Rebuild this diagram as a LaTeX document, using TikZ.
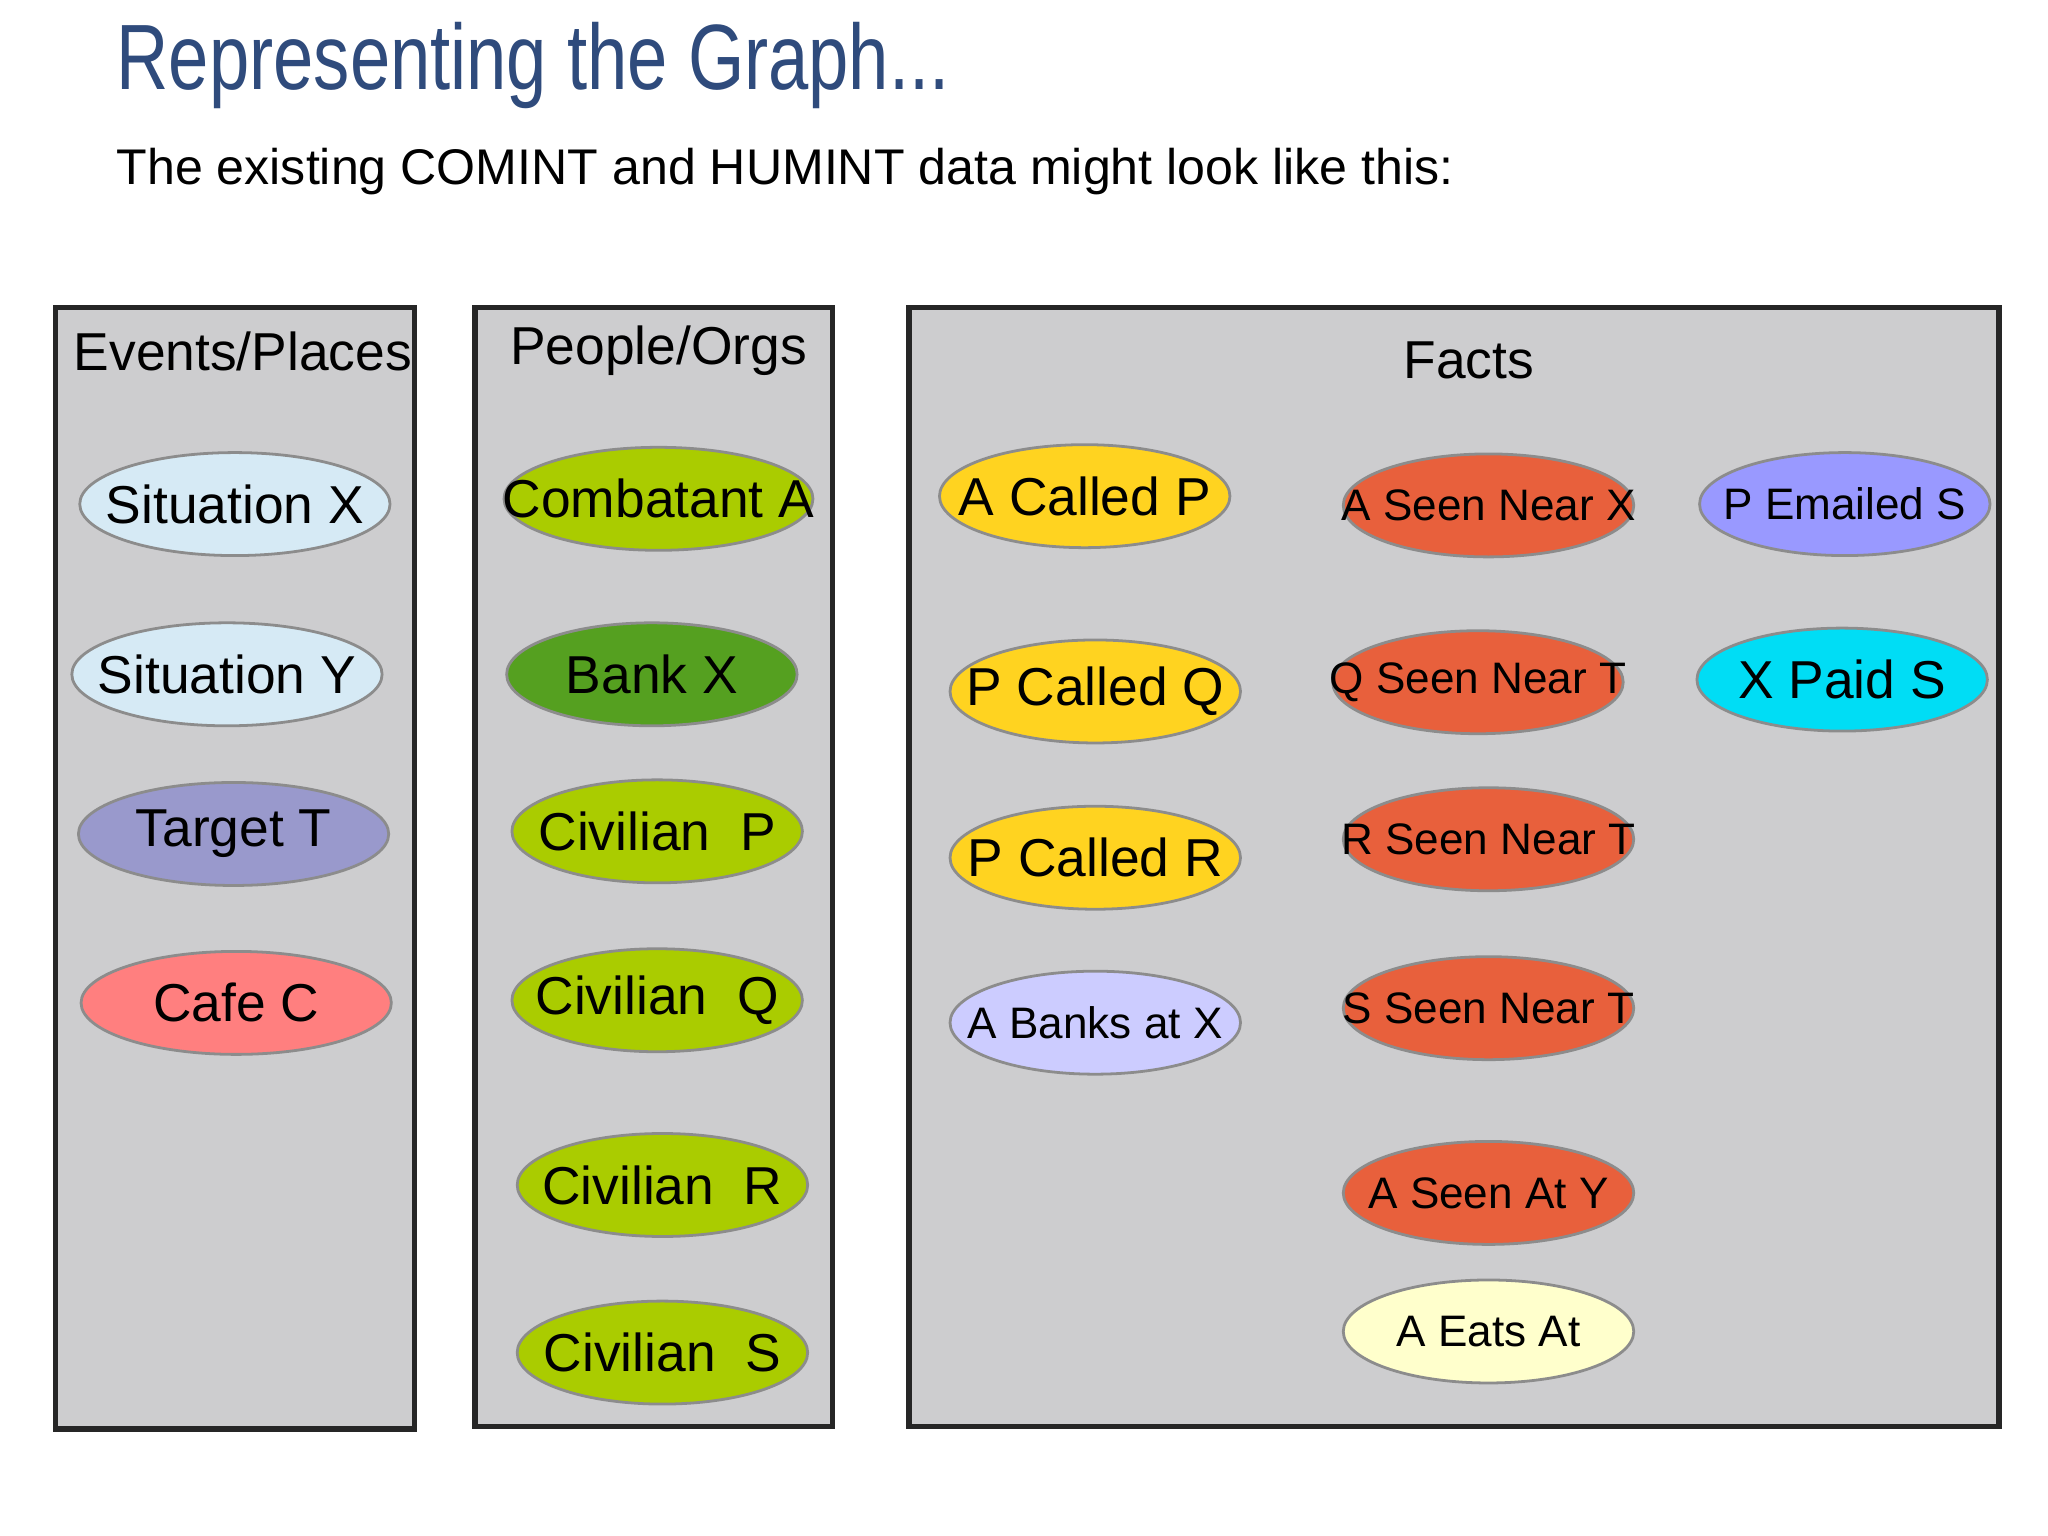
\documentclass[tikz,border=0pt]{standalone}
\usepackage{fontspec}
\setmainfont{Liberation Sans}
\usetikzlibrary{shapes.geometric}
\definecolor{panel}{HTML}{CDCDCF}
\definecolor{titleblue}{HTML}{2F4B7C}
\definecolor{sitc}{HTML}{D6EAF5}
\definecolor{tarc}{HTML}{9999CC}
\definecolor{cafc}{HTML}{FF7F7F}
\definecolor{civc}{HTML}{AACC00}
\definecolor{bankc}{HTML}{55A020}
\definecolor{callc}{HTML}{FFD320}
\definecolor{banksc}{HTML}{CCCCFF}
\definecolor{seenc}{HTML}{E8603C}
\definecolor{eatc}{HTML}{FFFFCC}
\definecolor{emailc}{HTML}{9999FF}
\definecolor{paidc}{HTML}{00DDF5}
\tikzset{
  panelbox/.style={draw=black!85,line width=1.2pt,fill=panel},
  ell/.style={ellipse,draw=black!45,line width=0.6pt,inner xsep=-1.5cm,inner ysep=-0.5cm,minimum width=2.2cm,minimum height=0.78cm,font=\fontsize{11.5}{14}\selectfont},
  ells/.style={ell,font=\fontsize{9.5}{12}\selectfont},
  head/.style={font=\fontsize{11.5}{14}\selectfont}
}
\begin{document}
\begin{tikzpicture}[x=0.01cm,y=-0.01cm]
\useasboundingbox[fill=white] (0,0) rectangle (1552,1164);
\node[anchor=west,text=titleblue,font=\fontsize{20}{24}\selectfont] (title) at (76,50) {\scalebox{0.78}[1]{Representing the Graph...}};
\node[anchor=west,font=\fontsize{10.8}{14}\selectfont] (sub) at (76,130) {The existing COMINT and HUMINT data might look like this:};
\draw[panelbox] (42,233) rectangle (314,1083);
\draw[panelbox] (360,233) rectangle (631,1081);
\draw[panelbox] (689,233) rectangle (1515,1081);
\node[head] (h1) at (184,266) {Events/Places};
\node[head] (h2) at (499,266) {People/Orgs};
\node[head] (h3) at (1113,273) {Facts};
\node[ell,minimum width=2.35cm,fill=sitc] (sx) at (178,382) {Situation X};
\node[ell,minimum width=2.35cm,fill=sitc] (sy) at (172,511) {Situation Y};
\node[ell,minimum width=2.35cm,fill=tarc] (tt) at (177,632) {Target T};
\node[ell,minimum width=2.35cm,fill=cafc] (cc) at (179,760) {Cafe C};
\node[ell,minimum width=2.34cm,fill=civc] (ca) at (499,378) {Combatant A};
\node[ell,fill=bankc] (bx) at (494,511) {Bank X};
\node[ell,fill=civc] (cp) at (498,630) {Civilian\ \ P};
\node[ell,fill=civc] (cq) at (498,758) {Civilian\ \ Q};
\node[ell,fill=civc] (cr) at (502,898) {Civilian\ \ R};
\node[ell,fill=civc] (cs) at (502,1025) {Civilian\ \ S};
\node[ell,fill=callc] (acp) at (822,376) {A Called P};
\node[ell,fill=callc] (pcq) at (830,524) {P Called Q};
\node[ell,fill=callc] (pcr) at (830,650) {P Called R};
\node[ells,fill=banksc] (abx) at (830,775) {A Banks at X};
\node[ells,fill=seenc] (asx) at (1128,383) {A Seen Near X};
\node[ells,fill=seenc] (qst) at (1120,517) {Q Seen Near T};
\node[ells,fill=seenc] (rst) at (1128,636) {R Seen Near T};
\node[ells,fill=seenc] (sst) at (1128,764) {S Seen Near T};
\node[ells,fill=seenc] (asy) at (1128,904) {A Seen At Y};
\node[ells,fill=eatc] (aea) at (1128,1009) {A Eats At};
\node[ells,fill=emailc] (pes) at (1398,382) {P Emailed S};
\node[ell,fill=paidc] (xps) at (1396,515) {X Paid S};
\end{tikzpicture}
\end{document}
